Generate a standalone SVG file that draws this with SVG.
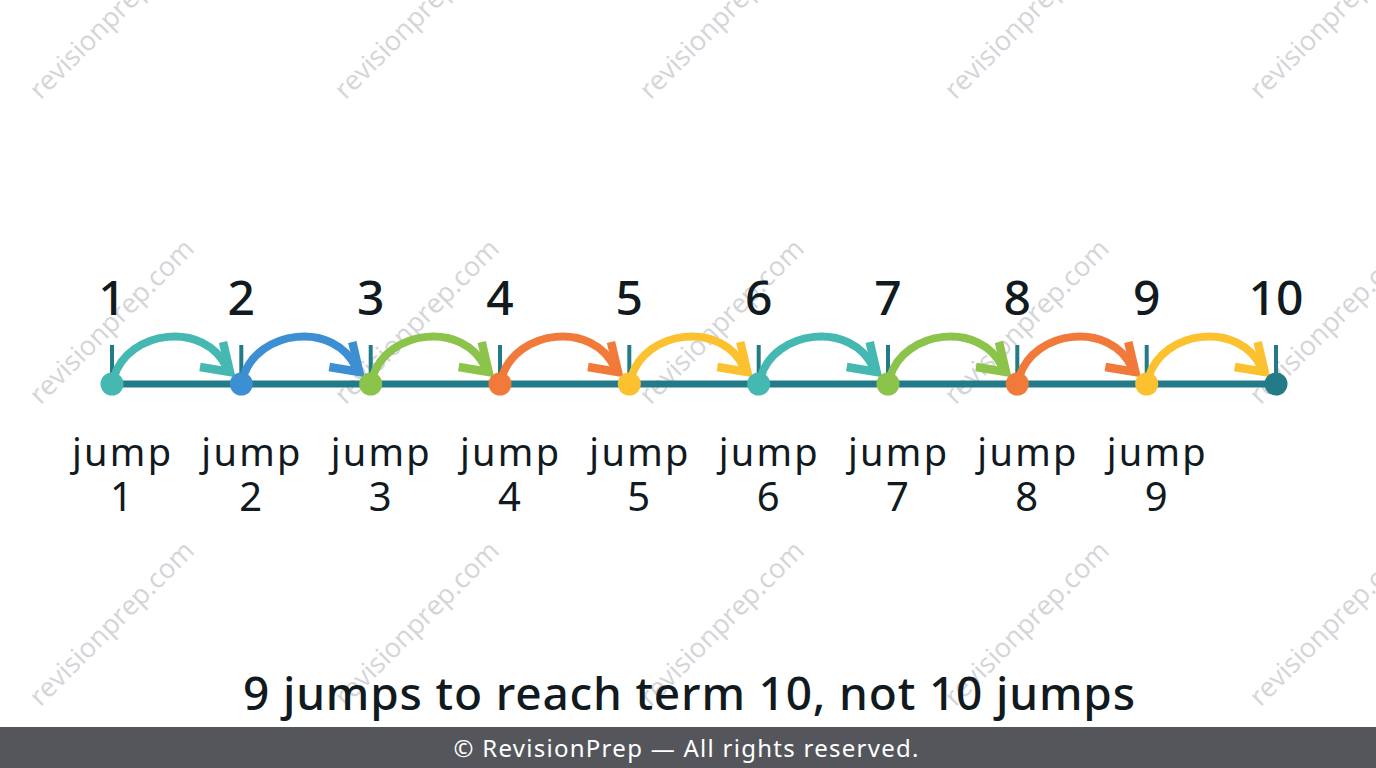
<svg xmlns="http://www.w3.org/2000/svg" width="1376" height="768" viewBox="0 0 1376 768">
<style>
.wm{font-family:"Open Sans","Noto Sans",sans-serif;font-size:27px;fill:#d4d5d9;}
.num{font-family:"Noto Sans","DejaVu Sans",sans-serif;font-size:48px;font-weight:500;fill:#111a1e;text-anchor:middle;}
.jl{font-family:"Noto Sans","DejaVu Sans",sans-serif;font-size:38px;fill:#111a1e;text-anchor:middle;}
.jn{font-size:40px;}
.axis{stroke:#237b87;stroke-width:7;fill:none;}
.tick{stroke:#237b87;stroke-width:4;fill:none;}
.arc{fill:none;stroke-width:8;stroke-linecap:round;}
.head{fill:none;stroke-width:8.5;stroke-linejoin:miter;stroke-linecap:butt;}
.teal{stroke:#45b8b2;}
.blue{stroke:#3b8fd2;}
.green{stroke:#8cc34b;}
.orange{stroke:#f1793a;}
.yellow{stroke:#fbc12e;}
</style>
<defs>
<path id="arcp" d="M2,377 C16,330 93,320 115,368"/>
<path id="headp" d="M111,342 L118,372 L88,367"/>
</defs>
<rect width="1376" height="768" fill="#ffffff"/>
<g id="watermarks">
<text class="wm" text-anchor="middle" transform="translate(118,23) rotate(-45)">revisionprep.com</text>
<text class="wm" text-anchor="middle" transform="translate(423,23) rotate(-45)">revisionprep.com</text>
<text class="wm" text-anchor="middle" transform="translate(728,23) rotate(-45)">revisionprep.com</text>
<text class="wm" text-anchor="middle" transform="translate(1033,23) rotate(-45)">revisionprep.com</text>
<text class="wm" text-anchor="middle" transform="translate(1338,23) rotate(-45)">revisionprep.com</text>
<text class="wm" text-anchor="middle" transform="translate(118,328) rotate(-45)">revisionprep.com</text>
<text class="wm" text-anchor="middle" transform="translate(423,328) rotate(-45)">revisionprep.com</text>
<text class="wm" text-anchor="middle" transform="translate(728,328) rotate(-45)">revisionprep.com</text>
<text class="wm" text-anchor="middle" transform="translate(1033,328) rotate(-45)">revisionprep.com</text>
<text class="wm" text-anchor="middle" transform="translate(1338,328) rotate(-45)">revisionprep.com</text>
<text class="wm" text-anchor="middle" transform="translate(118,630) rotate(-45)">revisionprep.com</text>
<text class="wm" text-anchor="middle" transform="translate(423,630) rotate(-45)">revisionprep.com</text>
<text class="wm" text-anchor="middle" transform="translate(728,630) rotate(-45)">revisionprep.com</text>
<text class="wm" text-anchor="middle" transform="translate(1033,630) rotate(-45)">revisionprep.com</text>
<text class="wm" text-anchor="middle" transform="translate(1338,630) rotate(-45)">revisionprep.com</text>
</g>
<g id="axis">
<line class="axis" x1="112" y1="384" x2="1276" y2="384"/>
<line class="tick" x1="112" y1="345" x2="112" y2="384"/>
<line class="tick" x1="241.3" y1="345" x2="241.3" y2="384"/>
<line class="tick" x1="370.7" y1="345" x2="370.7" y2="384"/>
<line class="tick" x1="500" y1="345" x2="500" y2="384"/>
<line class="tick" x1="629.3" y1="345" x2="629.3" y2="384"/>
<line class="tick" x1="758.7" y1="345" x2="758.7" y2="384"/>
<line class="tick" x1="888" y1="345" x2="888" y2="384"/>
<line class="tick" x1="1017.3" y1="345" x2="1017.3" y2="384"/>
<line class="tick" x1="1146.7" y1="345" x2="1146.7" y2="384"/>
<line class="tick" x1="1276" y1="345" x2="1276" y2="384"/>
</g>
<g id="connectors">
<g class="teal" transform="translate(112,0)"><use href="#arcp" class="arc"/><use href="#headp" class="head"/></g>
<g class="blue" transform="translate(241.3,0)"><use href="#arcp" class="arc"/><use href="#headp" class="head"/></g>
<g class="green" transform="translate(370.7,0)"><use href="#arcp" class="arc"/><use href="#headp" class="head"/></g>
<g class="orange" transform="translate(500,0)"><use href="#arcp" class="arc"/><use href="#headp" class="head"/></g>
<g class="yellow" transform="translate(629.3,0)"><use href="#arcp" class="arc"/><use href="#headp" class="head"/></g>
<g class="teal" transform="translate(758.7,0)"><use href="#arcp" class="arc"/><use href="#headp" class="head"/></g>
<g class="green" transform="translate(888,0)"><use href="#arcp" class="arc"/><use href="#headp" class="head"/></g>
<g class="orange" transform="translate(1017.3,0)"><use href="#arcp" class="arc"/><use href="#headp" class="head"/></g>
<g class="yellow" transform="translate(1146.7,0)"><use href="#arcp" class="arc"/><use href="#headp" class="head"/></g>
</g>
<g id="term1"><circle cx="112" cy="384" r="11.5" fill="#45b8b2"/><text class="num" x="112" y="315">1</text></g>
<g id="term2"><circle cx="241.3" cy="384" r="11.5" fill="#3b8fd2"/><text class="num" x="241.3" y="315">2</text></g>
<g id="term3"><circle cx="370.7" cy="384" r="11.5" fill="#8cc34b"/><text class="num" x="370.7" y="315">3</text></g>
<g id="term4"><circle cx="500" cy="384" r="11.5" fill="#f1793a"/><text class="num" x="500" y="315">4</text></g>
<g id="term5"><circle cx="629.3" cy="384" r="11.5" fill="#fbc12e"/><text class="num" x="629.3" y="315">5</text></g>
<g id="term6"><circle cx="758.7" cy="384" r="11.5" fill="#45b8b2"/><text class="num" x="758.7" y="315">6</text></g>
<g id="term7"><circle cx="888" cy="384" r="11.5" fill="#8cc34b"/><text class="num" x="888" y="315">7</text></g>
<g id="term8"><circle cx="1017.3" cy="384" r="11.5" fill="#f1793a"/><text class="num" x="1017.3" y="315">8</text></g>
<g id="term9"><circle cx="1146.7" cy="384" r="11.5" fill="#fbc12e"/><text class="num" x="1146.7" y="315">9</text></g>
<g id="term10"><circle cx="1276" cy="384" r="11.5" fill="#237b87"/><text class="num" x="1276" y="315">10</text></g>
<g id="jumplabels">
<text id="jump1" class="jl"><tspan x="121.5" y="466" textLength="99">jump</tspan><tspan class="jn" x="121.5" y="511">1</tspan></text>
<text id="jump2" class="jl"><tspan x="250.8" y="466" textLength="99">jump</tspan><tspan class="jn" x="250.8" y="511">2</tspan></text>
<text id="jump3" class="jl"><tspan x="380.2" y="466" textLength="99">jump</tspan><tspan class="jn" x="380.2" y="511">3</tspan></text>
<text id="jump4" class="jl"><tspan x="509.5" y="466" textLength="99">jump</tspan><tspan class="jn" x="509.5" y="511">4</tspan></text>
<text id="jump5" class="jl"><tspan x="638.8" y="466" textLength="99">jump</tspan><tspan class="jn" x="638.8" y="511">5</tspan></text>
<text id="jump6" class="jl"><tspan x="768.2" y="466" textLength="99">jump</tspan><tspan class="jn" x="768.2" y="511">6</tspan></text>
<text id="jump7" class="jl"><tspan x="897.5" y="466" textLength="99">jump</tspan><tspan class="jn" x="897.5" y="511">7</tspan></text>
<text id="jump8" class="jl"><tspan x="1026.8" y="466" textLength="99">jump</tspan><tspan class="jn" x="1026.8" y="511">8</tspan></text>
<text id="jump9" class="jl"><tspan x="1156.2" y="466" textLength="99">jump</tspan><tspan class="jn" x="1156.2" y="511">9</tspan></text>
</g>
<g id="caption">
<text x="689" y="710" text-anchor="middle" textLength="892" font-family="Noto Sans, DejaVu Sans, sans-serif" font-size="46" font-weight="500" fill="#111a1e">9 jumps to reach term 10, not 10 jumps</text>
</g>
<g id="footer">
<rect x="0" y="727" width="1376" height="41" fill="#55565b"/>
<text x="686" y="757" text-anchor="middle" textLength="465" font-family="Noto Sans, Open Sans, sans-serif" font-size="24" fill="#ffffff">© RevisionPrep — All rights reserved.</text>
</g>
</svg>
